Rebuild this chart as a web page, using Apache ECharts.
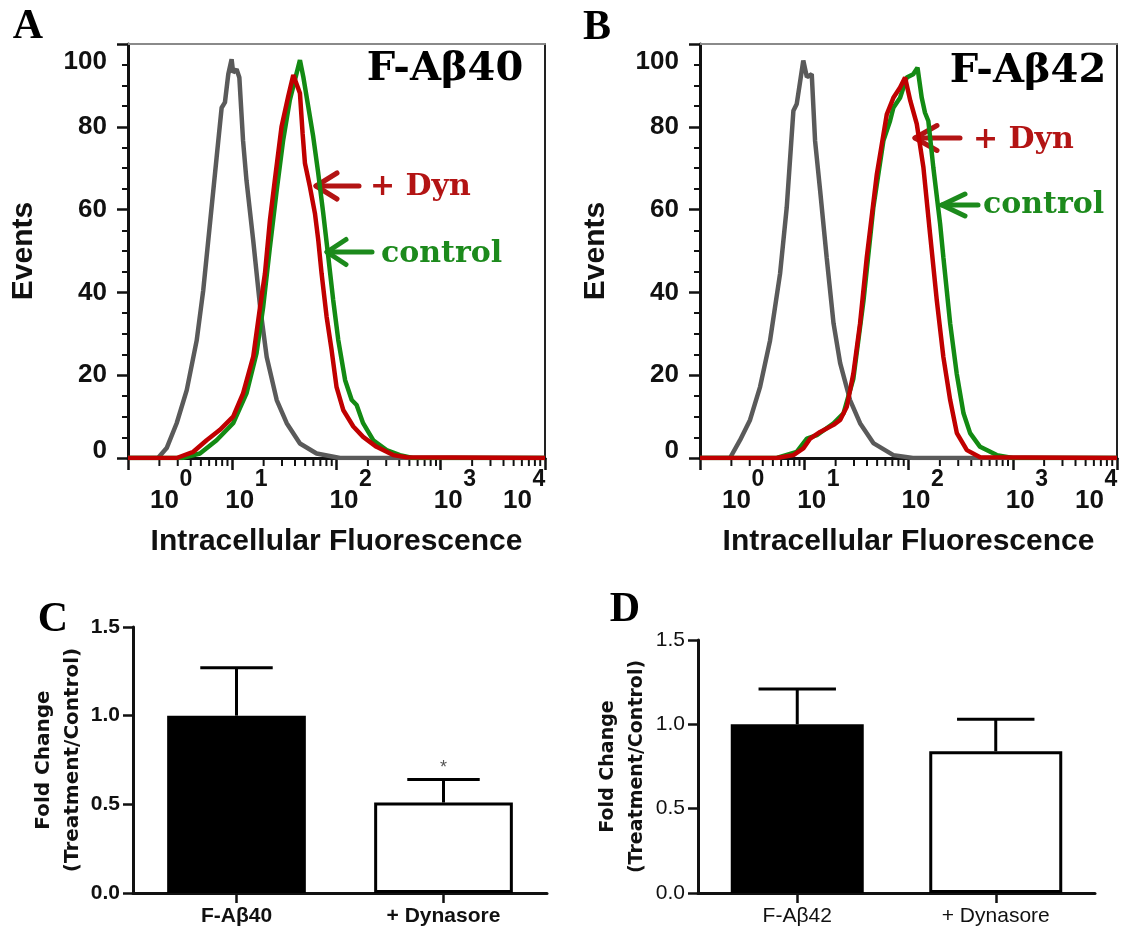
<!DOCTYPE html>
<html><head><meta charset="utf-8">
<script src="https://cdn.jsdelivr.net/npm/echarts@6/dist/echarts.min.js"></script>
<style>html,body{margin:0;padding:0;background:#fff}#c{width:1123px;height:932px}</style>
</head><body><div id="c"></div>
<script>
// ---------- data ----------
const decadeTicks = [1, 10, 100, 1000, 10000];
const minorTicks = [2,3,4,5,6,7,8,9,20,30,40,50,60,70,80,90,200,300,400,500,600,700,800,900,2000,3000,4000,5000,6000,7000,8000,9000];
const yTicksHisto = [0, 20, 40, 60, 80, 100];

// Panel A (F-Aβ40)
const aGrayX = [1, 1.94, 2.35, 2.93, 3.66, 4.56, 5.27, 6.11, 7.08, 7.91, 8.51, 9.16, 9.86, 10.2, 11.0, 11.7, 12.7, 13.7, 15.9, 18.5, 21.4, 26.7, 33.3, 44.6, 64.4, 108, 10000];
const aGrayY = [0, 0, 2.4, 8.4, 16.4, 28.4, 40.5, 56.6, 72.6, 84.6, 85.9, 92.7, 96.3, 93.1, 93.9, 91.9, 76.6, 67.0, 52.5, 36.5, 24.4, 14.0, 8.4, 3.5, 1.1, 0, 0];
const aCtrlX = [1, 3.3, 4.9, 7.08, 10.2, 13.7, 17.1, 19.8, 23.0, 26.7, 30.8, 35.7, 41.4, 44.6, 48.0, 53.6, 59.8, 66.8, 74.6, 83.4, 92.9, 104, 121, 140, 156, 180, 225, 302, 406, 537, 10000];
const aCtrlY = [0, 0, 1.1, 4.3, 8.4, 15.6, 25.3, 36.5, 51.0, 64.7, 76.8, 86.5, 92.9, 96.1, 92.1, 84.9, 77.6, 68.8, 59.1, 48.6, 38.2, 28.5, 18.8, 14.0, 12.8, 8.4, 4.3, 1.9, 0.7, 0, 0];
const aDynX = [1, 2.93, 4.23, 5.68, 7.62, 10.2, 12.7, 15.9, 18.5, 20.6, 23.0, 25.6, 29.7, 34.4, 38.5, 39.9, 44.6, 47.3, 49.8, 55.6, 62.1, 66.8, 71.9, 80.4, 89.7, 100, 116, 145, 180, 242, 350, 470, 10000];
const aDynY = [0, 0, 1.5, 4.3, 6.8, 10.0, 15.6, 24.5, 36.5, 44.6, 57.5, 67.1, 80.0, 87.3, 92.5, 92.9, 88.1, 78.4, 71.2, 65.5, 59.1, 52.7, 44.6, 34.1, 26.1, 17.2, 11.6, 7.6, 5.1, 2.7, 0.7, 0.2, 0];

// Panel B (F-Aβ42)
const bGrayX = [1, 1.94, 2.42, 3.02, 3.77, 4.70, 5.86, 6.79, 7.87, 8.47, 9.79, 10.6, 11.8, 12.7, 14.2, 16.4, 19.1, 22.1, 27.5, 34.3, 46.0, 71.6, 110, 10000];
const bGrayY = [0, 0, 4.3, 9.2, 17.2, 28.4, 44.5, 60.5, 83.9, 85.5, 96.0, 92.0, 92.7, 76.6, 64.6, 48.5, 32.5, 22.9, 14.0, 8.4, 3.6, 0.7, 0, 0];
const bCtrlX = [1, 5.45, 8.47, 10.6, 13.2, 19.1, 23.8, 29.6, 37.0, 46.0, 57.4, 66.5, 71.6, 83.0, 96.2, 111, 122, 134, 144, 155, 173, 201, 216, 251, 290, 337, 390, 486, 703, 1000, 10000];
const bCtrlY = [0, 0, 1.5, 4.7, 5.5, 8.4, 10.8, 19.2, 38.0, 60.5, 76.6, 81.4, 84.6, 87.0, 91.9, 92.7, 94.3, 87.0, 83.4, 81.4, 70.2, 56.6, 48.5, 32.5, 20.4, 10.8, 6.0, 2.7, 0.7, 0, 0];
const bDynX = [1, 5.45, 7.87, 9.79, 11.4, 14.2, 19.1, 22.1, 25.6, 29.6, 34.3, 39.8, 49.7, 61.9, 71.6, 83.0, 92.7, 104, 120, 139, 161, 187, 216, 251, 291, 363, 486, 10000];
const bDynY = [0, 0, 0.7, 2.3, 4.7, 6.3, 8.0, 9.2, 12.4, 20.4, 32.5, 48.5, 68.6, 83.0, 87.0, 89.5, 91.9, 86.3, 80.7, 70.2, 54.1, 38.0, 24.4, 14.0, 6.0, 1.9, 0.2, 0];

// Panel C
const catsC = ['F-Aβ40', '+ Dynasore'];
const meansC = [1.00, 0.51];
const semC = [0.27, 0.13];
const sigC = ['', '*'];
// Panel D
const catsD = ['F-Aβ42', '+ Dynasore'];
const meansD = [1.00, 0.84];
const semD = [0.21, 0.19];
const sigD = ['', ''];

// ---------- helpers ----------
const INK = '#111';
const GRAY = '#5a5a5a', GREEN = '#138a13', RED = '#c00000';
const pts = (xs, ys) => xs.map((x, i) => [x, ys[i]]);
const SANS = 'Liberation Sans';

function histoAxes(g) {
  const xs = [{
    gridIndex: g, type: 'log', logBase: 10, min: 1, max: 10000, position: 'bottom',
    axisLine: { show: true, onZero: false, lineStyle: { color: INK, width: 3 } },
    axisTick: { show: true, length: 12, customValues: decadeTicks, lineStyle: { color: INK, width: 2.5 } },
    axisLabel: { show: false },
    splitLine: { show: false },
    name: 'Intracellular Fluorescence', nameLocation: 'middle', nameGap: 69,
    nameTextStyle: { fontFamily: SANS, fontWeight: 'bold', fontSize: 30, color: INK }
  }, {
    gridIndex: g, type: 'log', logBase: 10, min: 1, max: 10000, position: 'top',
    axisLine: { show: true, onZero: false, lineStyle: { color: '#8a8a8a', width: 2 } },
    axisTick: { show: false }, axisLabel: { show: false }, splitLine: { show: false }
  }];
  const ys = [{
    gridIndex: g, type: 'value', min: 0, max: 100, interval: 20, position: 'left',
    axisLine: { show: true, onZero: false, lineStyle: { color: INK, width: 3 } },
    axisTick: { show: true, length: 11, lineStyle: { color: INK, width: 2.5 } },
    minorTick: { show: true, splitNumber: 4, length: 6, lineStyle: { color: INK, width: 2 } },
    axisLabel: { show: false },
    splitLine: { show: false },
    name: 'Events', nameLocation: 'middle', nameGap: 89, nameRotate: 90,
    nameTextStyle: { fontFamily: SANS, fontWeight: 'bold', fontSize: 30, color: INK }
  }, {
    gridIndex: g, type: 'value', min: 0, max: 100, position: 'right',
    axisLine: { show: true, onZero: false, lineStyle: { color: '#222', width: 2 } },
    axisTick: { show: false }, axisLabel: { show: false }, splitLine: { show: false }
  }];
  return { xs, ys };
}

function barAxes(g, cats, bold, tickSize, nameSize) {
  const x = {
    gridIndex: g, type: 'category', data: cats,
    axisLine: { show: true, lineStyle: { color: INK, width: 3 } },
    axisTick: { show: true, alignWithLabel: true, length: 10, lineStyle: { color: INK, width: 2.5 } },
    axisLabel: { fontSize: 21, fontWeight: bold ? 'bold' : 'normal', fontFamily: SANS, color: INK, margin: 13, interval: 0 },
    splitLine: { show: false }
  };
  const y = {
    gridIndex: g, type: 'value', min: 0, max: 1.5, interval: 0.5,
    axisLine: { show: true, lineStyle: { color: INK, width: 3 } },
    axisTick: { show: true, length: 10, lineStyle: { color: INK, width: 2.5 } },
    axisLabel: { fontSize: tickSize, fontWeight: bold ? 'bold' : 'normal', fontFamily: SANS, color: INK, margin: 13,
      formatter: v => v.toFixed(1) },
    splitLine: { show: false },
    name: 'Fold Change\n(Treatment/Control)', nameLocation: 'middle', nameRotate: 90, nameGap: 44,
    nameTextStyle: { fontFamily: 'DejaVu Sans', fontWeight: 'bold', fontSize: nameSize, lineHeight: 29, color: INK }
  };
  return { x, y };
}

function lineSeries(xi, yi, xs, ys, color, z) {
  return { type: 'line', xAxisIndex: xi, yAxisIndex: yi, data: pts(xs, ys), showSymbol: false, symbol: 'none',
    lineStyle: { color: color, width: 4.5 }, itemStyle: { color: color }, z: z, animation: false, silent: true };
}
function minorTickSeries(xi, yi) {
  return { type: 'custom', xAxisIndex: xi, yAxisIndex: yi, data: minorTicks.map(v => [v, 0]), silent: true, clip: false, z: 1,
    renderItem: (params, api) => {
      const p = api.coord([api.value(0), 0]);
      return { type: 'line', shape: { x1: p[0], y1: p[1] + 1, x2: p[0], y2: p[1] + 8 }, style: { stroke: INK, lineWidth: 2 } };
    } };
}
// decade labels "10^n" with real superscripts, placed through the log axis
function decadeLabelSeries(xi, yi) {
  const n = decadeTicks.length;
  return { type: 'custom', xAxisIndex: xi, yAxisIndex: yi, data: decadeTicks.map(v => [v, 0]), silent: true, clip: false, z: 10,
    renderItem: (params, api) => {
      const v = api.value(0);
      const e = Math.round(Math.log10(v));
      const p = api.coord([v, 0]);
      const bw = 29, sw = 13;
      let left;
      if (params.dataIndex === 0) left = p[0] + 22;
      else if (params.dataIndex === n - 1) left = p[0] - bw - sw;
      else left = p[0] - 7;
      return { type: 'group', children: [
        { type: 'text', style: { text: '10', x: left, y: p[1] + 43, align: 'left', verticalAlign: 'middle',
          font: 'bold 26px "Liberation Sans"', fill: INK } },
        { type: 'text', style: { text: String(e), x: left + bw + 0.5, y: p[1] + 22, align: 'left', verticalAlign: 'middle',
          font: 'bold 23px "Liberation Sans"', fill: INK } }
      ] };
    } };
}
function yLabelSeries(xi, yi) {
  return { type: 'custom', xAxisIndex: xi, yAxisIndex: yi, data: yTicksHisto.map(v => [1, v]), silent: true, clip: false, z: 10,
    renderItem: (params, api) => {
      const v = api.value(1);
      const p = api.coord([1, v]);
      let dy = 0;
      if (v === 100) dy = 18;
      if (v === 0) dy = -7;
      return { type: 'text', style: { text: String(v), x: p[0] - 21, y: p[1] + dy, align: 'right', verticalAlign: 'middle',
        font: 'bold 26px "Liberation Sans"', fill: INK } };
    } };
}
function barSeries(xi, yi, means) {
  return { type: 'bar', xAxisIndex: xi, yAxisIndex: yi, barWidth: '67%', animation: false,
    data: means.map((v, i) => ({ value: v, itemStyle: i === 0 ? { color: '#000', borderColor: '#000', borderWidth: 3 } : { color: '#fff', borderColor: '#000', borderWidth: 3 } })) };
}
function errSeries(xi, yi, means, sems, sigs, capFrac) {
  return { type: 'custom', xAxisIndex: xi, yAxisIndex: yi, silent: true, animation: false, z: 5,
    data: means.map((m, i) => [i, m, m + sems[i]]),
    renderItem: (params, api) => {
      const i = api.value(0);
      const b = api.coord([i, api.value(1)]);
      const t = api.coord([i, api.value(2)]);
      const half = api.size([1, 0])[0] * capFrac / 2;
      const ch = [
        { type: 'line', shape: { x1: b[0], y1: b[1], x2: t[0], y2: t[1] }, style: { stroke: '#000', lineWidth: 3 } },
        { type: 'line', shape: { x1: t[0] - half, y1: t[1], x2: t[0] + half, y2: t[1] }, style: { stroke: '#000', lineWidth: 3 } }
      ];
      const s = sigs[params.dataIndex];
      if (s) ch.push({ type: 'text', style: { text: s, x: t[0], y: t[1] - 11, align: 'center', verticalAlign: 'middle', fontSize: 18, fontFamily: SANS, fill: '#555' } });
      return { type: 'group', children: ch };
    } };
}

const A = histoAxes(0), B = histoAxes(1);
const C = barAxes(2, catsC, true, 21, 20), D = barAxes(3, catsD, false, 21, 19);

function txt(text, x, y, font, fill, align) {
  return { type: 'text', silent: true, z: 50, style: { text, x, y, font, fill, align: align || 'center', verticalAlign: 'middle' } };
}
function arrow(tipX, tailX, y, headX, hh, color) {
  return { type: 'group', silent: true, z: 50, children: [
    { type: 'line', shape: { x1: tipX, y1: y, x2: tailX, y2: y }, style: { stroke: color, lineWidth: 5, lineCap: 'round' } },
    { type: 'polyline', shape: { points: [[headX, y - hh], [tipX, y], [headX, y + hh]] }, style: { stroke: color, fill: null, lineWidth: 5, lineCap: 'round', lineJoin: 'round' } }
  ] };
}
const letterFont = 'bold 42px "Liberation Serif"';
const titleFont = 'bold 40px "DejaVu Serif"';
const annFont = 'bold 30px "DejaVu Serif"';
const DYN = '#b31414', CTL = '#1c8a1c';

const option = {
  backgroundColor: '#fff',
  animation: false,
  grid: [
    { left: 128, top: 44, width: 417, height: 414, containLabel: false, outerBoundsMode: 'none' },
    { left: 700, top: 44, width: 417, height: 414, containLabel: false, outerBoundsMode: 'none' },
    { left: 133, top: 627, width: 414, height: 266, containLabel: false, outerBoundsMode: 'none' },
    { left: 698, top: 640, width: 397, height: 253, containLabel: false, outerBoundsMode: 'none' }
  ],
  xAxis: [A.xs[0], A.xs[1], B.xs[0], B.xs[1], C.x, D.x],
  yAxis: [A.ys[0], A.ys[1], B.ys[0], B.ys[1], C.y, D.y],
  series: [
    minorTickSeries(0, 0),
    decadeLabelSeries(0, 0),
    yLabelSeries(0, 0),
    lineSeries(0, 0, aGrayX, aGrayY, GRAY, 2),
    lineSeries(0, 0, aCtrlX, aCtrlY, GREEN, 3),
    lineSeries(0, 0, aDynX, aDynY, RED, 4),
    minorTickSeries(2, 2),
    decadeLabelSeries(2, 2),
    yLabelSeries(2, 2),
    lineSeries(2, 2, bGrayX, bGrayY, GRAY, 2),
    lineSeries(2, 2, bCtrlX, bCtrlY, GREEN, 3),
    lineSeries(2, 2, bDynX, bDynY, RED, 4),
    barSeries(4, 4, meansC),
    errSeries(4, 4, meansC, semC, sigC, 0.35),
    barSeries(5, 5, meansD),
    errSeries(5, 5, meansD, semD, sigD, 0.39)
  ],
  graphic: [
    txt('A', 28, 27, letterFont, '#000'),
    txt('B', 597, 28, letterFont, '#000'),
    txt('C', 53, 620, letterFont, '#000'),
    txt('D', 625, 610, letterFont, '#000'),
    txt('F-Aβ40', 445, 70, titleFont, '#000'),
    txt('F-Aβ42', 1028, 72, titleFont, '#000'),
    arrow(316, 359, 186, 337, 13, DYN),
    txt('+ Dyn', 370, 187, annFont, DYN, 'left'),
    arrow(327, 372, 252, 346, 12.5, CTL),
    txt('control', 381, 254, annFont, CTL, 'left'),
    arrow(915, 960, 138, 937, 12.5, DYN),
    txt('+ Dyn', 973, 140, annFont, DYN, 'left'),
    arrow(942, 978, 205, 965, 11, CTL),
    txt('control', 983, 205, annFont, CTL, 'left')
  ]
};
const chart = echarts.init(document.getElementById('c'), null, { renderer: 'canvas' });
chart.setOption(option);
</script></body></html>
